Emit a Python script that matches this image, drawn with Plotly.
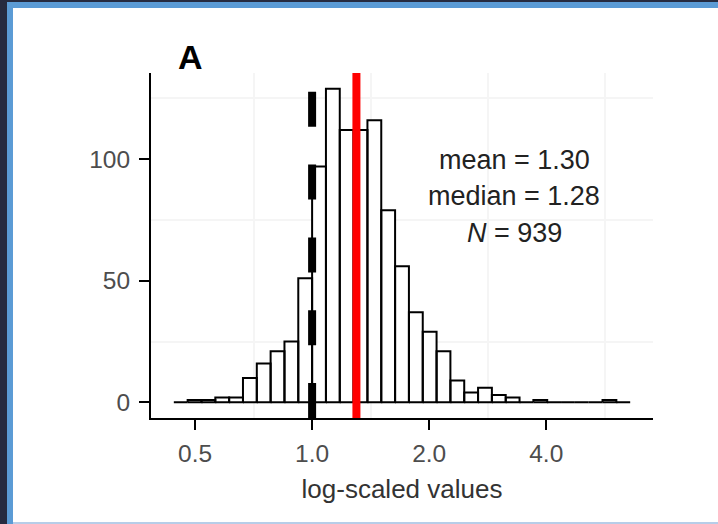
import math
import plotly.graph_objects as go

# ---- data ----
bin_edges = [0.44095, 0.47858, 0.51942, 0.56374, 0.61184, 0.66405, 0.72071, 0.78220,
             0.84896, 0.92138, 1.0, 1.08533, 1.17792, 1.27845, 1.38752, 1.50591,
             1.63441, 1.77386, 1.92522, 2.08949, 2.26778, 2.46127, 2.67128, 2.89921,
             3.14660, 3.41507, 3.70647, 4.02272, 4.36597, 4.73849, 5.14283, 5.58162,
             6.05788, 6.57477]
counts = [0, 1, 1, 2, 2, 10, 16, 21, 25, 51, 97, 129, 112, 112, 116, 79, 56,
          37, 29, 21, 9, 4, 6, 3, 2, 0, 1, 0, 0, 0, 0, 1, 0]
reference_value = 1.0
mean_value = 1.30
median_value = 1.28
n_obs = 939
x_tick_vals = [0.5, 1.0, 2.0, 4.0]
x_tick_text = ["0.5", "1.0", "2.0", "4.0"]
x_minor_vals = [0.7071, 1.4142, 2.8284, 5.6569]
y_tick_vals = [0, 50, 100]
y_minor_vals = [25, 75, 125]
panel_label = "A"
x_title = "log-scaled values"

# ---- geometry ----
W, H = 718, 524
ML, MR, MT, MB = 151, 65, 73, 106
PW, PH = W - ML - MR, H - MT - MB


def px2x(px):
    return (px - ML) / PW


def py2y(py):
    return (H - MB - py) / PH


# histogram outline as rectangles
xs, ys = [], []
for i, c in enumerate(counts):
    xl, xr = bin_edges[i], bin_edges[i + 1]
    xs += [xl, xl, xr, xr, xl, None]
    ys += [0, c, c, 0, 0, None]

fig = go.Figure()
fig.add_trace(go.Scatter(
    x=xs, y=ys, mode="lines", fill="toself", fillcolor="white",
    line=dict(color="black", width=2), hoverinfo="skip", showlegend=False))

# axis ranges with 5% expansion
lo, hi = math.log10(bin_edges[0]), math.log10(bin_edges[-1])
span = hi - lo
ymax = max(counts)

font_fam = "Liberation Sans, Arial, sans-serif"

fig.update_layout(
    width=W, height=H,
    margin=dict(l=ML, r=MR, t=MT, b=MB, pad=0),
    paper_bgcolor="white", plot_bgcolor="white",
    showlegend=False,
    font=dict(family=font_fam),
    xaxis=dict(
        type="log", range=[lo - 0.05 * span, hi + 0.05 * span],
        tickmode="array", tickvals=x_tick_vals, ticktext=x_tick_text,
        showgrid=False, zeroline=False,
        showline=True, linecolor="black", linewidth=2,
        ticks="outside", ticklen=10, tickwidth=2, tickcolor="black",
        ticklabelstandoff=3,
        tickfont=dict(size=24.5, color="#4d4d4d"),
        minor=dict(tickmode="array", tickvals=x_minor_vals, showgrid=True,
                   gridcolor="#f5f5f5", gridwidth=2, ticks=""),
        title=dict(text=x_title, font=dict(size=26, color="#333333"), standoff=13),
    ),
    yaxis=dict(
        range=[-0.05 * ymax, ymax * 1.05],
        tickmode="array", tickvals=y_tick_vals,
        showgrid=False, zeroline=False,
        showline=True, linecolor="black", linewidth=2,
        ticks="outside", ticklen=10, tickwidth=2, tickcolor="black",
        ticklabelstandoff=4,
        tickfont=dict(size=24.5, color="#4d4d4d"),
        minor=dict(tickmode="array", tickvals=y_minor_vals, showgrid=True,
                   gridcolor="#f5f5f5", gridwidth=2, ticks=""),
    ),
)

# reference lines
fig.add_shape(type="line", xref="x", yref="paper", x0=reference_value, x1=reference_value,
              y0=0, y1=1, line=dict(color="black", width=8, dash="35px,37.8px"), layer="above")
fig.add_shape(type="line", xref="x", yref="paper", x0=mean_value, x1=mean_value,
              y0=0, y1=1, line=dict(color="#ff0000", width=8), layer="above")

# stats text
ann_x = math.log10(3.31)
lines = [f"mean = {mean_value:.2f}", f"median = {median_value:.2f}", f"<i>N</i> = {n_obs}"]
line_y = [99.6, 84.8, 69.8]
for t, yv in zip(lines, line_y):
    fig.add_annotation(x=ann_x, y=yv, xref="x", yref="y", text=t, showarrow=False,
                       xanchor="center", yanchor="middle",
                       font=dict(size=27, color="#222222", family=font_fam))

# panel label
fig.add_annotation(x=px2x(190), y=py2y(57.5), xref="paper", yref="paper",
                   text=f"<b>{panel_label}</b>",
                   showarrow=False, xanchor="center", yanchor="middle",
                   font=dict(size=34, color="black", family=font_fam))

# window frame
frame = [
    (0, 0, 7, H, "#262b40"),
    (0, 0, W, 2, "#262b40"),
    (7, 2, 13, H, "#5b9bd5"),
    (7, 2, W, 8, "#5b9bd5"),
    (13, 522, W, H, "#b7cde8"),
]
for x0, y0, x1, y1, col in frame:
    fig.add_shape(type="rect", xref="paper", yref="paper",
                  x0=px2x(x0), x1=px2x(x1), y0=py2y(y1), y1=py2y(y0),
                  fillcolor=col, line=dict(width=0), layer="above")

fig.write_html("out.html",
               config={"displayModeBar": False},
               post_script="document.body.style.margin='0';document.body.style.overflow='hidden';")
